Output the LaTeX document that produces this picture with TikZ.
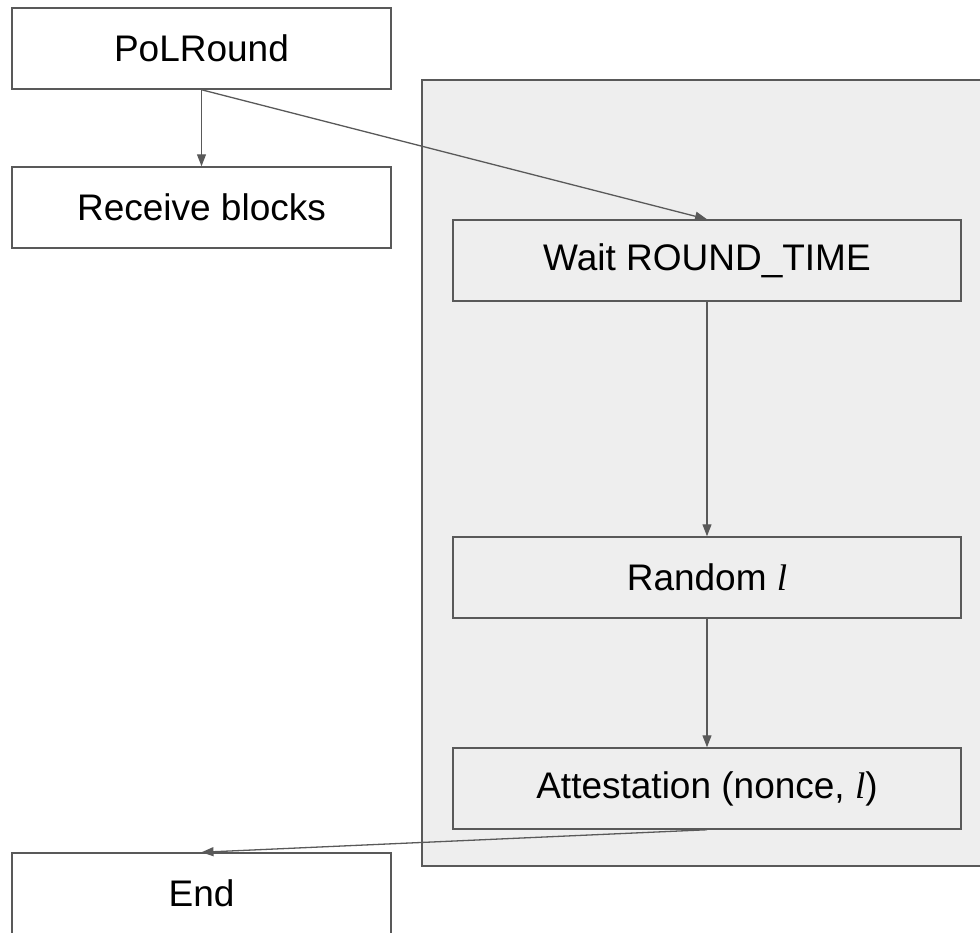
\documentclass[tikz,border=0pt]{standalone}
\usepackage{fontspec}
\setmainfont{Liberation Sans}
\newfontfamily\varfont{Liberation Serif}
\usetikzlibrary{arrows.meta}
\definecolor{edgegray}{HTML}{595959}
\definecolor{panelgray}{HTML}{EEEEEE}
\newcommand{\ivar}{{\varfont\itshape l}}
\tikzset{
  stepbox/.style={draw=edgegray, line width=1.5pt, rectangle, inner sep=0pt,
    minimum height=81pt, font=\fontsize{37}{44}\selectfont},
  leftbox/.style={stepbox, fill=white, minimum width=379pt},
  rightbox/.style={stepbox, minimum width=508pt},
  flow/.style={draw=edgegray, line width=1.3pt, -{Triangle[length=12pt,width=9pt]}},
  panel/.style={draw=edgegray, fill=panelgray, line width=1.5pt},
}
\begin{document}
\begin{tikzpicture}[x=1pt, y=-1pt]
  \useasboundingbox (0,0) rectangle (980,932);
  \clip (0,0) rectangle (980,932);
  % grouping panel for the timed part of the round
  \draw[panel] (422,80) rectangle (995,866);
  % steps
  \node[leftbox]  (polround) at (201.5,48.5)  {PoLRound};
  \node[leftbox]  (receive)  at (201.5,207.5) {Receive blocks};
  \node[rightbox] (wait)     at (707,260.5)   {Wait ROUND\_TIME};
  \node[rightbox] (random)   at (707,577.5)   {Random \ivar};
  \node[rightbox] (attest)   at (707,788.5)   {Attestation (nonce, \ivar)};
  \node[leftbox]  (end)      at (201.5,893.5) {End};
  % connectors
  \draw[flow] (polround.south) -- (receive.north);
  \draw[flow] (polround.south) -- (wait.north);
  \draw[flow] (wait.south) -- (random.north);
  \draw[flow] (random.south) -- (attest.north);
  \draw[flow] (attest.south) -- (end.north);
\end{tikzpicture}
\end{document}
